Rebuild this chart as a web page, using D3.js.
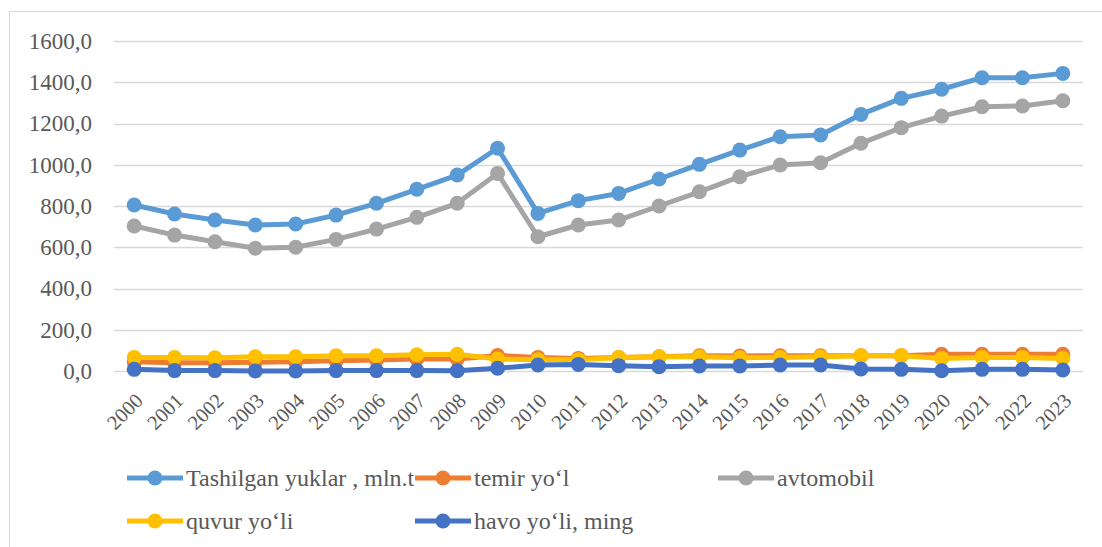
<!DOCTYPE html>
<html><head><meta charset="utf-8">
<script src="https://cdn.jsdelivr.net/npm/d3@7"></script>
<style>body{margin:0;background:#fff}svg{display:block}</style>
</head><body><svg id="c" width="1102" height="547"></svg>
<script>
const years = d3.range(2000, 2024).map(String);
const seriesNames = ["Tashilgan yuklar , mln.t", "temir yo\u2018l", "avtomobil", "quvur yo\u2018li", "havo yo\u2018li, ming"];
const seriesColors = ["#5B9BD5", "#ED7D31", "#A5A5A5", "#FFC000", "#4472C4"];
const tashilgan = [805,761,732,708,713,756,813,881,950,1080,764,826,861,931,1002,1071,1136,1144,1244,1322,1366,1422,1422,1443];
const temir = [45,40,40,42,45,50,53,58,58,75,66,61,66,69,74,73,74,74,74,74,81,81,81,81];
const avtomobil = [703,659,627,595,600,638,688,745,813,958,651,708,732,800,869,942,999,1010,1104,1180,1236,1281,1285,1310];
const quvur = [66,66,64,69,69,74,74,79,81,58,55,55,66,69,69,64,66,69,74,74,61,66,66,61];
const havo = [8,2,2,0,0,2,2,2,1,13,29,32,26,21,24,24,29,29,10,8,1,8,8,5];
const yTicks = [0,200,400,600,800,1000,1200,1400,1600];
const allSeries = [tashilgan, temir, avtomobil, quvur, havo];

(function(){
const svg = d3.select("#c");
const font = "Liberation Serif";
svg.append("rect").attr("x",9.5).attr("y",11.5).attr("width",1100).attr("height",560)
  .attr("fill","none").attr("stroke","#d9d9d9").attr("stroke-width",1);

const pl=114, pr=1083, pt=41, pb=371;
const x = d3.scaleBand().domain(years).range([pl,pr]);
const y = d3.scaleLinear().domain([0,1600]).range([pb,pt]);

svg.append("g").selectAll("line").data(yTicks).join("line")
  .attr("x1",pl).attr("x2",pr).attr("y1",d=>Math.round(y(d))+0.5).attr("y2",d=>Math.round(y(d))+0.5)
  .attr("stroke","#d9d9d9").attr("stroke-width",1.5);

const fmt = d => d.toFixed(1).replace(".", ",");
svg.append("g").selectAll("text").data(yTicks).join("text")
  .attr("x",92).attr("y",d=>y(d))
  .attr("text-anchor","end").attr("dy","0.34em")
  .attr("font-family",font).attr("font-size",23).attr("fill","#595959")
  .text(fmt);

svg.append("g").selectAll("text").data(years).join("text")
  .attr("transform",d=>`translate(${x(d)+x.bandwidth()/2+10},402) rotate(-45)`)
  .attr("text-anchor","end")
  .attr("font-family",font).attr("font-size",20.5).attr("fill","#595959")
  .text(d=>d);

const line = d3.line().x((d,i)=>x(years[i])+x.bandwidth()/2).y(d=>y(d));
allSeries.forEach((vals,si)=>{
  const g = svg.append("g");
  g.append("path").datum(vals).attr("d",line).attr("fill","none")
    .attr("stroke",seriesColors[si]).attr("stroke-width",5).attr("stroke-linejoin","round");
  g.selectAll("circle").data(vals).join("circle")
    .attr("cx",(d,i)=>x(years[i])+x.bandwidth()/2).attr("cy",d=>y(d)).attr("r",7.5)
    .attr("fill",seriesColors[si]);
});

const legPos = [[127,478],[415,478],[718,478],[127,521],[415,521]];
seriesNames.forEach((name,i)=>{
  const [lx,ly]=legPos[i];
  const g = svg.append("g");
  g.append("line").attr("x1",lx).attr("x2",lx+56).attr("y1",ly).attr("y2",ly)
    .attr("stroke",seriesColors[i]).attr("stroke-width",5);
  g.append("circle").attr("cx",lx+28).attr("cy",ly).attr("r",7.5).attr("fill",seriesColors[i]);
  g.append("text").attr("x",lx+59).attr("y",ly)
    .attr("dy","0.34em").attr("font-family",font).attr("font-size",24).attr("fill","#595959")
    .text(name);
});
})();
</script></body></html>
